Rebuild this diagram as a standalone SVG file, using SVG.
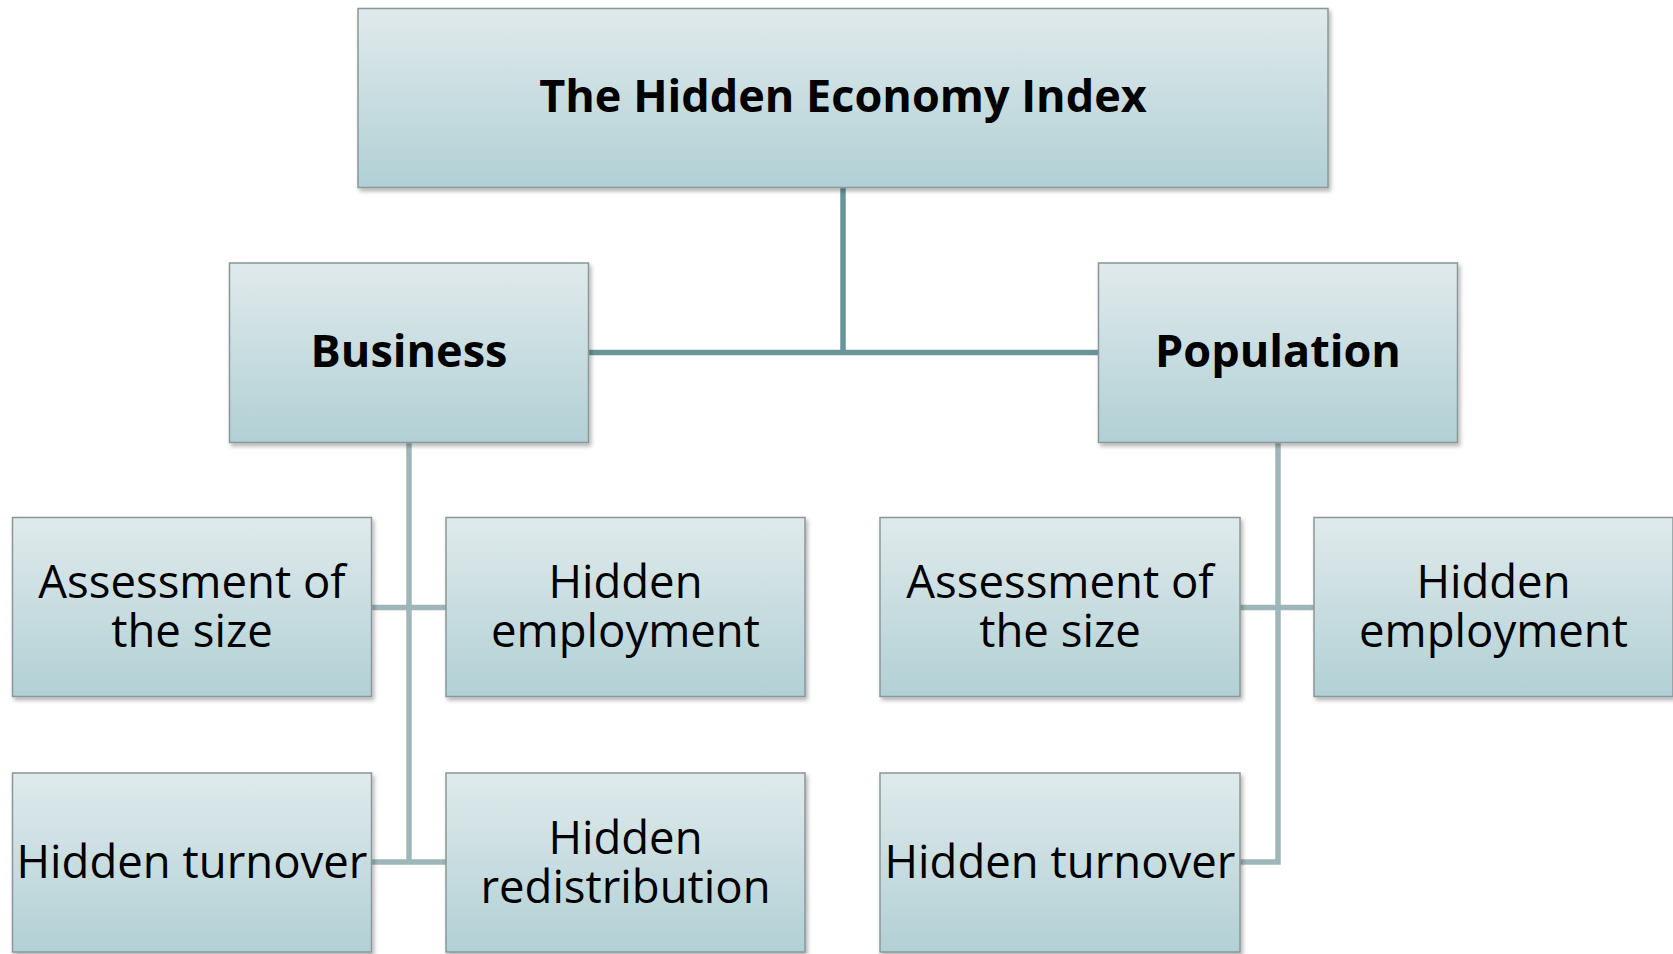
<svg xmlns="http://www.w3.org/2000/svg" width="1673" height="954" viewBox="0 0 1673 954">
  <defs>
    <linearGradient id="boxGrad" x1="0" y1="0" x2="0" y2="1">
      <stop offset="0" stop-color="#e0eaec"/>
      <stop offset="1" stop-color="#b1d0d5"/>
    </linearGradient>
    <filter id="shadow" x="-5%" y="-5%" width="115%" height="120%">
      <feDropShadow dx="2" dy="3" stdDeviation="2" flood-color="#000" flood-opacity="0.3"/>
    </filter>
  </defs>
  <style>
    .box { fill: url(#boxGrad); stroke: #8b9698; stroke-width: 1.5; filter: url(#shadow); }
    .title { font-family: "Open Sans", "Liberation Sans", sans-serif; font-weight: bold; font-size: 45px; fill: #000; text-anchor: middle; }
    .label { font-family: "Open Sans", "Liberation Sans", sans-serif; font-size: 45.5px; fill: #000; text-anchor: middle; }
    .dark { stroke: #6b9498; stroke-width: 5.5; fill: none; }
    .light { stroke: #9fb6b9; stroke-width: 5.5; fill: none; }
  </style>
  <rect width="1673" height="954" fill="#ffffff"/>

  <g id="connectors">
    <line class="dark" x1="843" y1="187" x2="843" y2="352.5"/>
    <line class="dark" x1="588.5" y1="352.5" x2="1098.5" y2="352.5"/>
    <line class="light" x1="409" y1="442.5" x2="409" y2="862"/>
    <line class="light" x1="371.5" y1="607.5" x2="446" y2="607.5"/>
    <line class="light" x1="371.5" y1="862" x2="446" y2="862"/>
    <polyline class="light" points="1278,442.5 1278,862 1240,862"/>
    <line class="light" x1="1240" y1="607.5" x2="1314" y2="607.5"/>
  </g>

  <g id="node-top">
    <rect class="box" x="358" y="8.5" width="970" height="179"/>
    <text class="title" x="843" y="112">The Hidden Economy Index</text>
  </g>
  <g id="node-business">
    <rect class="box" x="229.5" y="263" width="359" height="179.5"/>
    <text class="title" x="409" y="367">Business</text>
  </g>
  <g id="node-population">
    <rect class="box" x="1098.5" y="263" width="359" height="179.5"/>
    <text class="title" x="1278" y="367">Population</text>
  </g>
  <g id="node-b-assessment">
    <rect class="box" x="12.5" y="517.5" width="359" height="179"/>
    <text class="label" x="192" y="598">Assessment of</text>
    <text class="label" x="192" y="647">the size</text>
  </g>
  <g id="node-b-employment">
    <rect class="box" x="446" y="517.5" width="359" height="179"/>
    <text class="label" x="625.5" y="598">Hidden</text>
    <text class="label" x="625.5" y="647">employment</text>
  </g>
  <g id="node-b-turnover">
    <rect class="box" x="12.5" y="773" width="359" height="179"/>
    <text class="label" x="192" y="878">Hidden turnover</text>
  </g>
  <g id="node-b-redistribution">
    <rect class="box" x="446" y="773" width="359" height="179"/>
    <text class="label" x="625.5" y="853.5">Hidden</text>
    <text class="label" x="625.5" y="902.5">redistribution</text>
  </g>
  <g id="node-p-assessment">
    <rect class="box" x="880" y="517.5" width="360" height="179"/>
    <text class="label" x="1060" y="598">Assessment of</text>
    <text class="label" x="1060" y="647">the size</text>
  </g>
  <g id="node-p-employment">
    <rect class="box" x="1314" y="517.5" width="359" height="179"/>
    <text class="label" x="1493.5" y="598">Hidden</text>
    <text class="label" x="1493.5" y="647">employment</text>
  </g>
  <g id="node-p-turnover">
    <rect class="box" x="880" y="773" width="360" height="179"/>
    <text class="label" x="1060" y="878">Hidden turnover</text>
  </g>
</svg>
